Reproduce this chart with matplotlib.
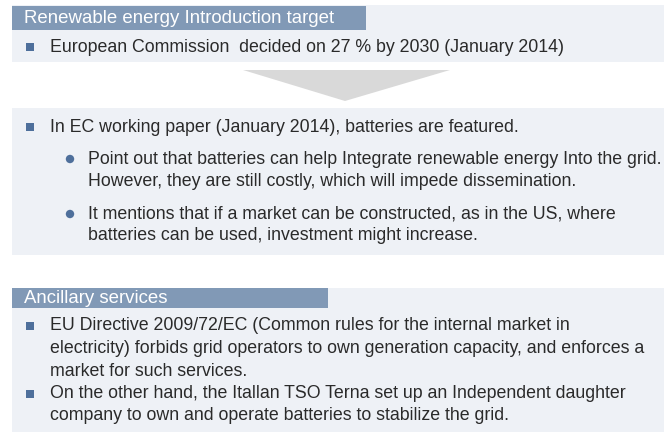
import matplotlib.pyplot as plt
from matplotlib.patches import Rectangle, Polygon, Circle

# section texts
header1 = "Renewable energy Introduction target"
lines1 = ["European Commission  decided on 27 % by 2030 (January 2014)"]

lines2_main = ["In EC working paper (January 2014), batteries are featured."]
sub2_a = ["Point out that batteries can help Integrate renewable energy Into the grid.",
          "However, they are still costly, which will impede dissemination."]
sub2_b = ["It mentions that if a market can be constructed, as in the US, where",
          "batteries can be used, investment might increase."]

header3 = "Ancillary services"
bullet3_a = ["EU Directive 2009/72/EC (Common rules for the internal market in",
             "electricity) forbids grid operators to own generation capacity, and enforces a",
             "market for such services."]
bullet3_b = ["On the other hand, the Itallan TSO Terna set up an Independent daughter",
             "company to own and operate batteries to stabilize the grid."]

panel_bg = '#eef1f6'
head_bg = '#8199b6'
mark = '#4e6f9b'
txt = '#2a2a2a'
fs = 12.8
hfs = 13.4
fam = 'Liberation Sans'

fig = plt.figure(figsize=(6.64, 4.32), dpi=100)
ax = fig.add_axes([0, 0, 1, 1])
ax.set_xlim(0, 664)
ax.set_ylim(432, 0)
ax.axis('off')

# panel 1
ax.add_patch(Rectangle((12, 5), 652, 57, color=panel_bg, lw=0))
ax.add_patch(Rectangle((12, 6), 354, 24, color=head_bg, lw=0))
ax.text(24, 18.5, header1, color='white', fontsize=hfs, family=fam, va='center')
ax.add_patch(Rectangle((26, 43), 8, 8, color=mark, lw=0))
ax.text(50, 47, lines1[0], color=txt, fontsize=fs, family=fam, va='center')

# arrow
ax.add_patch(Polygon([(243, 70), (450, 70), (345, 101)], closed=True, color='#d9d9d9', lw=0))

# panel 2
ax.add_patch(Rectangle((12, 108), 652, 147, color=panel_bg, lw=0))
ax.add_patch(Rectangle((26, 123), 8, 8, color=mark, lw=0))
ax.text(50, 127, lines2_main[0], color=txt, fontsize=fs, family=fam, va='center')
y = 159
for block in (sub2_a, sub2_b):
    ax.add_patch(Circle((70, y), 4.2, color=mark, lw=0))
    for ln in block:
        ax.text(88, y, ln, color=txt, fontsize=fs, family=fam, va='center', clip_on=True)
        y += 22
    y += 11

# panel 3
ax.add_patch(Rectangle((12, 288), 652, 144, color=panel_bg, lw=0))
ax.add_patch(Rectangle((12, 288), 316, 20, color=head_bg, lw=0))
ax.text(24, 298.5, header3, color='white', fontsize=hfs, family=fam, va='center')
y = 326
for block in (bullet3_a, bullet3_b):
    ax.add_patch(Rectangle((26, y - 4), 8, 8, color=mark, lw=0))
    for ln in block:
        ax.text(50, y, ln, color=txt, fontsize=fs, family=fam, va='center')
        y += 22.5

fig.savefig('out.png', dpi=100)
